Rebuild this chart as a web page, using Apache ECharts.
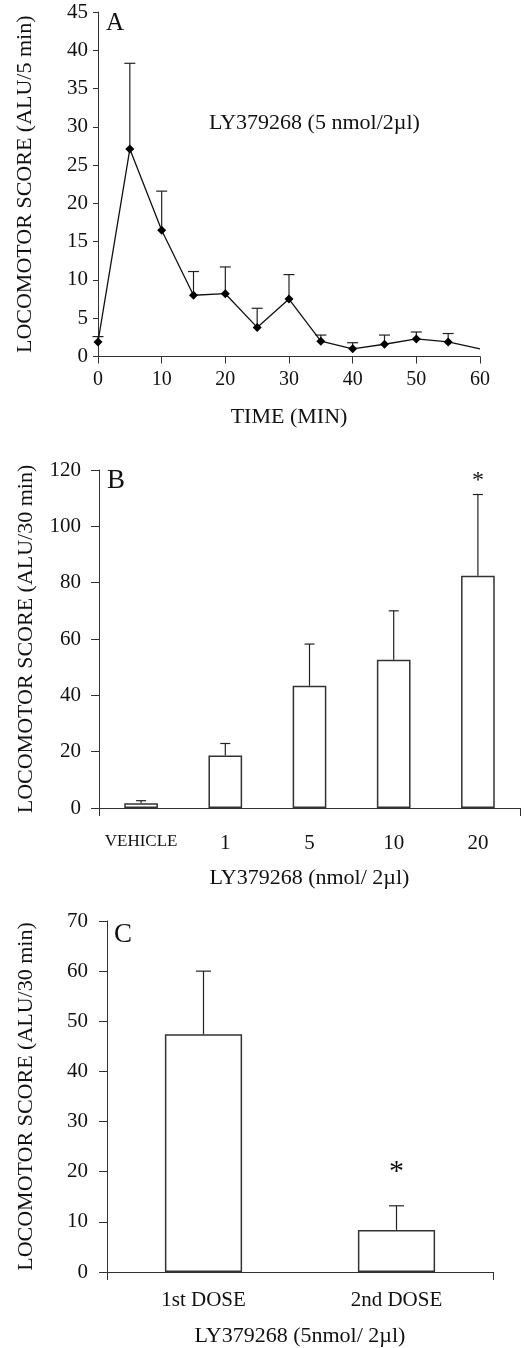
<!DOCTYPE html>
<html><head><meta charset="utf-8">
<script src="https://cdn.jsdelivr.net/npm/echarts/dist/echarts.min.js"></script>
<style>html,body{margin:0;padding:0;background:#fff}#c{width:525px;height:1348px}</style>
</head><body><div id="c"></div><script>
// ---- Panel A data ----
const timeMin = [0, 5, 10, 15, 20, 25, 30, 35, 40, 45, 50, 55, 60];
const scoreA  = [1.9, 27.1, 16.5, 8.0, 8.2, 3.8, 7.5, 2.0, 1.0, 1.6, 2.3, 1.9, 1.0];
const errA    = [0.7, 11.2, 5.1, 3.1, 3.5, 2.5, 3.2, 0.8, 0.8, 1.2, 0.9, 1.1, null];
// ---- Panel B data ----
const catsB  = ['VEHICLE', '1', '5', '10', '20'];
const scoreB = [1.7, 18.6, 43.4, 52.6, 82.5];
const errB   = [0.9, 4.3, 14.8, 17.4, 28.8];
const sigB   = ['', '', '', '', '*'];
// ---- Panel C data ----
const catsC  = ['1st DOSE', '2nd DOSE'];
const scoreC = [47.4, 8.4];
const errC   = [12.6, 4.8];
const sigC   = ['', '*'];

const FF = "'Liberation Serif','Times New Roman',serif";
const AX = '#333';

function errRender(capW, sig, starSize, starOff) {
  return function (params, api) {
    const x = api.value(0), m = api.value(1), e = api.value(2);
    if (e == null || isNaN(e)) return null;
    const p0 = api.coord([x, m]);
    const p1 = api.coord([x, m + e]);
    const st = { stroke: '#222', lineWidth: 1.2 };
    const children = [
      { type: 'line', shape: { x1: p0[0], y1: p0[1], x2: p1[0], y2: p1[1] }, style: st },
      { type: 'line', shape: { x1: p1[0] - capW / 2, y1: p1[1], x2: p1[0] + capW / 2, y2: p1[1] }, style: st }
    ];
    const s = sig && sig[params.dataIndex];
    if (s) {
      children.push({ type: 'text', x: p1[0], y: p1[1] - starOff,
        style: { text: s, fill: '#111', fontSize: starSize, fontFamily: FF, align: 'center', verticalAlign: 'middle' } });
    }
    return { type: 'group', children: children };
  };
}

function yAx(grid, max, interval, name, tickLen, margin, nameGap) {
  return {
    type: 'value', gridIndex: grid, min: 0, max: max, interval: interval,
    axisLine: { show: true, lineStyle: { color: AX, width: 1 } },
    axisTick: { show: true, length: tickLen, lineStyle: { color: AX } },
    splitLine: { show: false },
    axisLabel: { fontSize: 21, fontFamily: FF, color: '#111', margin: margin },
    name: name, nameLocation: 'middle', nameGap: nameGap, nameRotate: 90,
    nameTextStyle: { fontSize: 22, fontFamily: FF, color: '#111' }
  };
}

const chart = echarts.init(document.getElementById('c'));
chart.setOption({
  backgroundColor: '#fff',
  animation: false,
  title: [
    { text: 'A', left: 101, top: 6, textStyle: { fontSize: 25, fontWeight: 'normal', fontFamily: FF, color: '#111' } },
    { text: 'LY379268 (5 nmol/2\u00b5l)', left: 204, top: 107, textStyle: { fontSize: 22, fontWeight: 'normal', fontFamily: FF, color: '#111' } },
    { text: 'B', left: 102, top: 462, textStyle: { fontSize: 27, fontWeight: 'normal', fontFamily: FF, color: '#111' } },
    { text: 'C', left: 109, top: 916, textStyle: { fontSize: 27, fontWeight: 'normal', fontFamily: FF, color: '#111' } }
  ],
  grid: [
    { left: 98, top: 12, width: 382, height: 344.5 },
    { left: 99, top: 470, width: 421, height: 338 },
    { left: 107, top: 921, width: 386, height: 353.5 }
  ],
  xAxis: [
    { type: 'value', gridIndex: 0, min: 0, max: 60, interval: 10,
      axisLine: { show: true, onZero: false, lineStyle: { color: AX } },
      axisTick: { show: true, length: 7, lineStyle: { color: AX } },
      splitLine: { show: false },
      axisLabel: { fontSize: 20, fontFamily: FF, color: '#111', margin: 13 },
      name: 'TIME (MIN)', nameLocation: 'middle', nameGap: 50,
      nameTextStyle: { fontSize: 22, fontFamily: FF, color: '#111' } },
    { type: 'category', gridIndex: 1, data: catsB,
      axisLine: { show: true, lineStyle: { color: AX } },
      axisTick: { show: false },
      axisLabel: { interval: 0, fontSize: 21, fontFamily: FF, color: '#111', margin: 25,
        formatter: function (v) { return v === 'VEHICLE' ? '{s|' + v + '}' : v; },
        rich: { s: { fontSize: 17, fontFamily: FF, color: '#111' } } },
      name: 'LY379268 (nmol/ 2\u00b5l)', nameLocation: 'middle', nameGap: 59,
      nameTextStyle: { fontSize: 22, fontFamily: FF, color: '#111' } },
    { type: 'value', gridIndex: 1, min: 0, max: 1, interval: 1, position: 'bottom',
      axisLine: { show: false }, axisLabel: { show: false }, splitLine: { show: false },
      axisTick: { show: true, length: 8, lineStyle: { color: AX } } },
    { type: 'category', gridIndex: 2, data: catsC,
      axisLine: { show: true, lineStyle: { color: AX } },
      axisTick: { show: false },
      axisLabel: { interval: 0, fontSize: 21, fontFamily: FF, color: '#111', margin: 18 },
      name: 'LY379268 (5nmol/ 2\u00b5l)', nameLocation: 'middle', nameGap: 53,
      nameTextStyle: { fontSize: 22, fontFamily: FF, color: '#111' } },
    { type: 'value', gridIndex: 2, min: 0, max: 1, interval: 1, position: 'bottom',
      axisLine: { show: false }, axisLabel: { show: false }, splitLine: { show: false },
      axisTick: { show: true, length: 8, lineStyle: { color: AX } } }
  ],
  yAxis: [
    yAx(0, 45, 5, 'LOCOMOTOR SCORE (ALU/5 min)', 5, 10, 62),
    yAx(1, 120, 20, 'LOCOMOTOR SCORE (ALU/30 min)', 8, 18, 62),
    yAx(2, 70, 10, 'LOCOMOTOR SCORE (ALU/30 min)', 8, 19, 70)
  ],
  series: [
    { type: 'custom', xAxisIndex: 0, yAxisIndex: 0, renderItem: errRender(11, null, 0, 0),
      data: timeMin.map(function (t, i) { return [t, scoreA[i], errA[i] == null ? NaN : errA[i]]; }), z: 3 },
    { type: 'line', xAxisIndex: 0, yAxisIndex: 0,
      data: timeMin.map(function (t, i) { return { value: [t, scoreA[i]], symbol: i === timeMin.length - 1 ? 'none' : 'diamond' }; }),
      symbolSize: 9, lineStyle: { color: '#111', width: 1.3 }, itemStyle: { color: '#000' }, z: 4 },
    { type: 'bar', xAxisIndex: 1, yAxisIndex: 1, data: scoreB, barWidth: '40%',
      itemStyle: { color: '#fff', borderColor: '#333', borderWidth: 1.5 } },
    { type: 'custom', xAxisIndex: 1, yAxisIndex: 1, renderItem: errRender(10, sigB, 24, 14),
      data: scoreB.map(function (v, i) { return [i, v, errB[i]]; }), z: 3 },
    { type: 'bar', xAxisIndex: 3, yAxisIndex: 2, data: scoreC, barWidth: '40%',
      itemStyle: { color: '#fff', borderColor: '#333', borderWidth: 1.5 } },
    { type: 'custom', xAxisIndex: 3, yAxisIndex: 2, renderItem: errRender(15, sigC, 30, 34),
      data: scoreC.map(function (v, i) { return [i, v, errC[i]]; }), z: 3 }
  ]
});
</script></body></html>
